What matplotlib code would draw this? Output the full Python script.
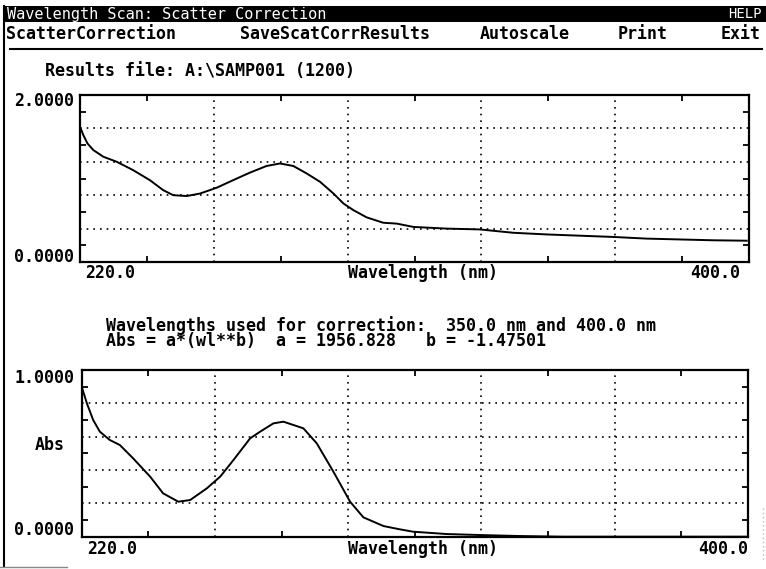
import matplotlib
matplotlib.use("Agg")
import matplotlib.pyplot as plt
from matplotlib.patches import Rectangle
from matplotlib.lines import Line2D

# raw absorbance scan (top panel)
raw_nm = [220.0, 220.9, 222.0, 223.6, 226.3, 229.9, 234.3, 238.8, 242.4, 245.1,
          248.7, 252.3, 256.8, 261.2, 265.7, 270.2, 273.8, 277.4, 281.0, 284.6,
          288.2, 290.9, 293.6, 297.1, 301.6, 305.2, 309.7, 318.6, 327.6, 336.6,
          345.6, 363.5, 372.5, 390.4, 399.4]
raw_abs = [1.62, 1.52, 1.42, 1.34, 1.26, 1.20, 1.10, 0.98, 0.86, 0.80,
           0.79, 0.82, 0.89, 0.98, 1.07, 1.15, 1.18, 1.15, 1.06, 0.96,
           0.82, 0.70, 0.62, 0.535, 0.47, 0.46, 0.42, 0.40, 0.39, 0.35,
           0.33, 0.30, 0.28, 0.26, 0.255]

# scatter corrected scan (bottom panel)
corr_nm = [220.0, 221.4, 223.1, 224.9, 227.6, 230.3, 233.9, 238.5, 242.0, 246.1,
           249.3, 253.8, 257.4, 261.0, 265.5, 268.2, 271.8, 274.5, 279.9, 283.5,
           288.0, 292.5, 296.1, 301.5, 306.0, 309.5, 318.6, 327.6, 338.4, 350.0,
           400.0]
corr_abs = [0.90, 0.80, 0.70, 0.63, 0.58, 0.55, 0.47, 0.36, 0.26, 0.21,
            0.22, 0.29, 0.36, 0.46, 0.59, 0.63, 0.68, 0.69, 0.65, 0.56,
            0.39, 0.21, 0.116, 0.064, 0.044, 0.03, 0.016, 0.01, 0.004, 0.0,
            0.0]

menu_items = ["ScatterCorrection", "SaveScatCorrResults", "Autoscale", "Print", "Exit"]
menu_x = [6, 240, 480, 618, 721]

W, H = 766, 569
FONT = "DejaVu Sans Mono"
FS = 12


def px(x, y):
    # screen pixel -> figure fraction
    return x / W, 1 - y / H


def label(x, y, s, ha="left", size=FS, color="black", weight="bold", **kw):
    fx, fy = px(x, y)
    fig.text(fx, fy, s, ha=ha, va="center", fontsize=size, color=color,
             family=FONT, fontweight=weight, **kw)


def setup_axes(ax, ymax):
    ax.set_xlim(220, 400)
    ax.set_ylim(0, ymax)
    ax.set_xticks([256, 292, 328, 364])
    ax.set_xticks([238, 274, 310, 346, 382], minor=True)
    ax.set_yticks([ymax * f for f in (0.2, 0.4, 0.6, 0.8)])
    ax.set_yticks([ymax * f for f in (0.1, 0.3, 0.5, 0.7, 0.9)], minor=True)
    ax.tick_params(which="major", length=0, labelbottom=False, labelleft=False)
    ax.tick_params(which="minor", length=4, width=1.3, direction="in",
                   top=True, right=True, bottom=True, left=True)
    ax.grid(True, which="major", color="black", linewidth=1.2,
            linestyle=(0, (1, 3.0)))
    for sp in ax.spines.values():
        sp.set_linewidth(1.6)


fig = plt.figure(figsize=(W / 100, H / 100), dpi=100)

# screen furniture
fig.add_artist(Rectangle(px(5, 22), (W - 5) / W, 16 / H, transform=fig.transFigure,
                         facecolor="black", edgecolor="none"))
label(7, 14, "Wavelength Scan: Scatter Correction", size=11, color="white",
      weight="normal")
label(762, 14, "HELP", ha="right", size=10, color="white", weight="normal")
for name, x in zip(menu_items, menu_x):
    label(x, 34, name, size=12)
fig.add_artist(Line2D([10 / W, 762 / W], [1 - 49 / H] * 2, color="black",
                      linewidth=1.5, transform=fig.transFigure))
fig.add_artist(Line2D([4 / W, 4 / W], [1 - 6 / H, 1 - 566 / H], color="black",
                      linewidth=1.5, transform=fig.transFigure))
fig.add_artist(Line2D([0, 67 / W], [1 - 567 / H] * 2, color="#888888",
                      linewidth=1.0, transform=fig.transFigure))
fig.add_artist(Line2D([763 / W, 763 / W], [1 - 508 / H, 1 - 562 / H], color="#bbbbbb",
                      linewidth=1.0, linestyle=(0, (1, 2)), transform=fig.transFigure))

label(45, 71, "Results file: A:\\SAMP001 (1200)")

# top panel: raw scan
ax1 = fig.add_axes([80 / W, 1 - 262 / H, 669 / W, 167 / H])
setup_axes(ax1, 2.0)
ax1.plot(raw_nm, raw_abs, color="black", linewidth=1.4)
label(74, 101, "2.0000", ha="right")
label(74, 257, "0.0000", ha="right")
label(85, 273, "220.0")
label(423, 273, "Wavelength (nm)", ha="center")
label(740, 273, "400.0", ha="right")

label(106, 333, "Wavelengths used for correction:  350.0 nm and 400.0 nm\n"
                "Abs = a*(wl**b)  a = 1956.828   b = -1.47501", linespacing=0.8)

# bottom panel: corrected scan
ax2 = fig.add_axes([81.7 / W, 1 - 536.7 / H, 666.3 / W, 166.7 / H])
setup_axes(ax2, 1.0)
ax2.plot(corr_nm, corr_abs, color="black", linewidth=1.4)
label(74, 378, "1.0000", ha="right")
label(65, 445, "Abs", ha="right")
label(74, 530, "0.0000", ha="right")
label(87, 549, "220.0")
label(423, 549, "Wavelength (nm)", ha="center")
label(748, 549, "400.0", ha="right")

fig.savefig("out.png", dpi=100)
